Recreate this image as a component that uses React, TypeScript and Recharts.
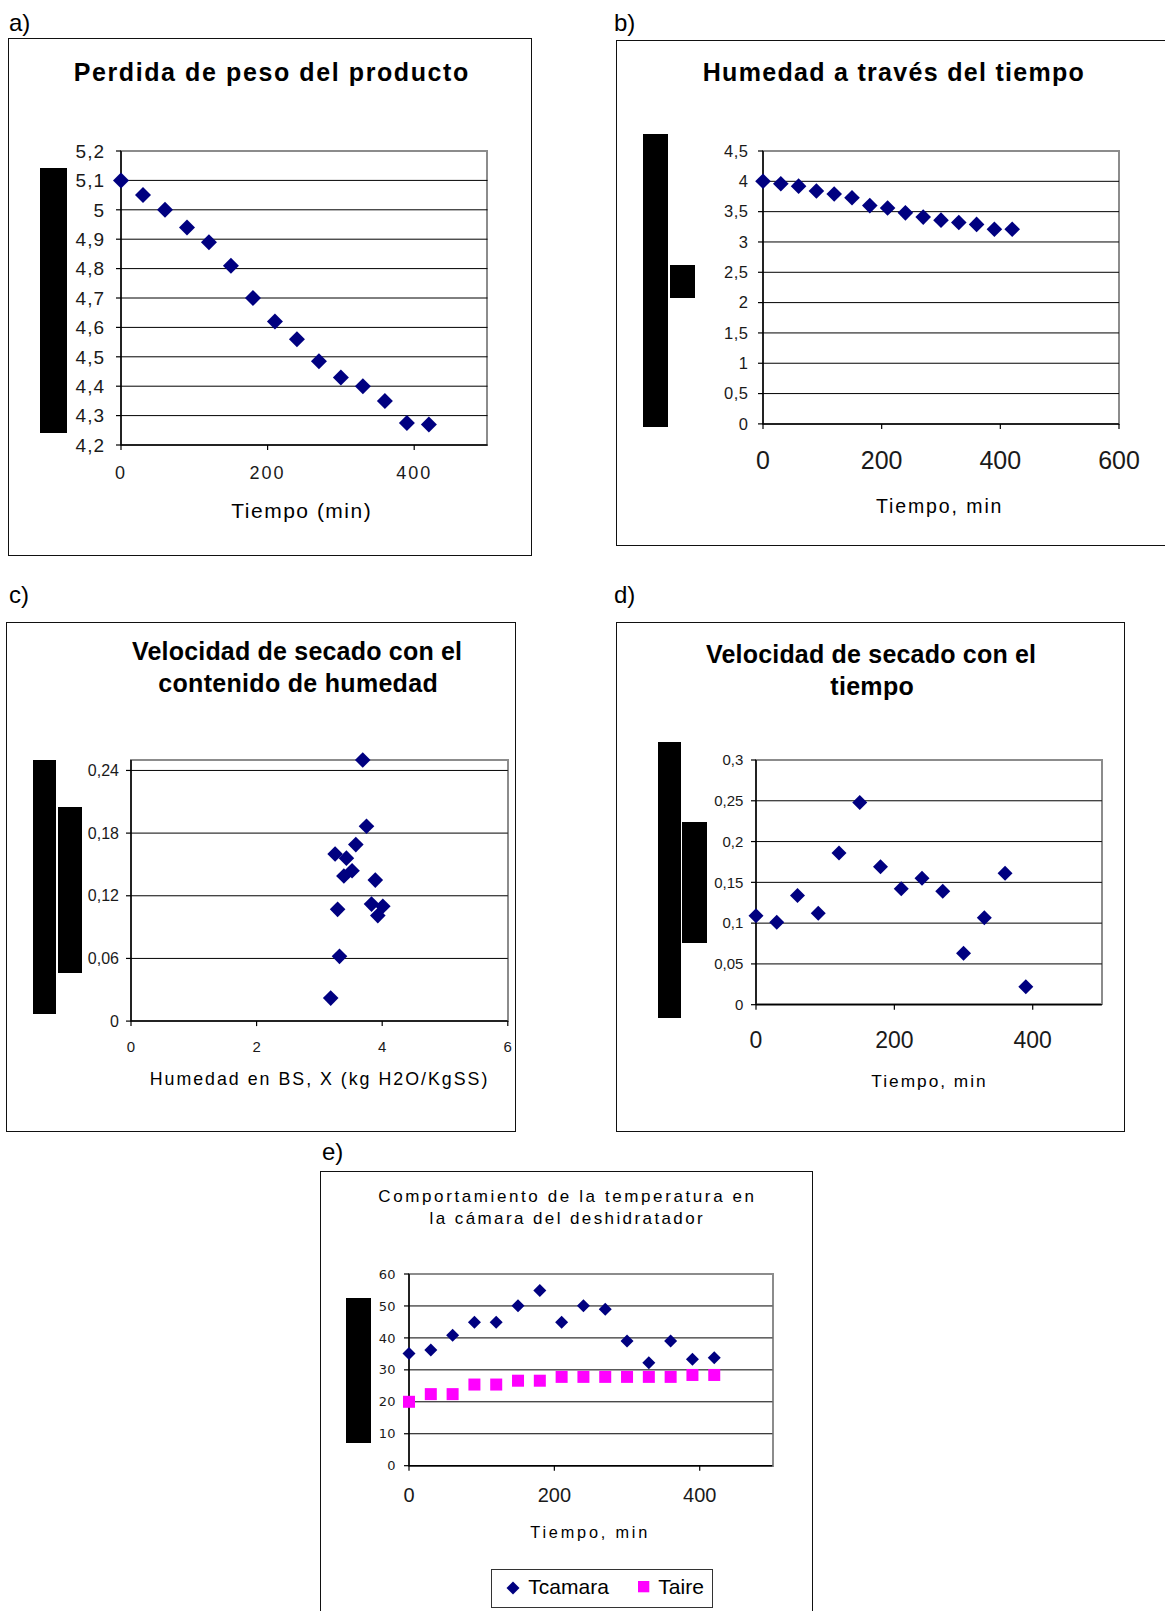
import React from 'react';
import { ScatterChart, Scatter, XAxis, YAxis, ReferenceLine } from 'recharts';

// ---------------- data ----------------
const tiempoMin = [0, 30, 60, 90, 120, 150, 180, 210, 240, 270, 300, 330, 360, 390, 420];
const pesoProducto = [5.1, 5.05, 5.0, 4.94, 4.89, 4.81, 4.7, 4.62, 4.56, 4.485, 4.43, 4.4, 4.35, 4.275, 4.27];
const humedadTiempo = [4.0, 3.96, 3.92, 3.84, 3.79, 3.73, 3.6, 3.56, 3.48, 3.41, 3.36, 3.32, 3.29, 3.21, 3.21];

const humedadBS = [4.01, 3.93, 3.89, 3.83, 3.75, 3.69, 3.58, 3.52, 3.43, 3.39, 3.32, 3.29, 3.25, 3.18];
const velocidadHumedad = [0.11, 0.101, 0.135, 0.112, 0.1865, 0.25, 0.169, 0.144, 0.156, 0.139, 0.062, 0.107, 0.16, 0.022];

const tiempoVelocidad = [0, 30, 60, 90, 120, 150, 180, 210, 240, 270, 300, 330, 360, 390];
const velocidadTiempo = [0.109, 0.101, 0.134, 0.112, 0.186, 0.248, 0.169, 0.142, 0.155, 0.139, 0.063, 0.1065, 0.161, 0.022];

const tCamara = [35.1, 36.2, 40.8, 44.9, 44.9, 50.1, 54.8, 44.9, 50.1, 49.0, 39.0, 32.2, 39.0, 33.3, 33.8];
const tAire = [20.0, 22.4, 22.4, 25.4, 25.4, 26.6, 26.6, 27.8, 27.8, 27.8, 27.8, 27.8, 27.8, 28.4, 28.4];

const xTicksA = [0, 200, 400];
const yTicksA = [4.2, 4.3, 4.4, 4.5, 4.6, 4.7, 4.8, 4.9, 5, 5.1, 5.2];
const xTicksB = [0, 200, 400, 600];
const yTicksB = [0, 0.5, 1, 1.5, 2, 2.5, 3, 3.5, 4, 4.5];
const xTicksC = [0, 2, 4, 6];
const yTicksC = [0, 0.06, 0.12, 0.18, 0.24];
const xTicksD = [0, 200, 400];
const yTicksD = [0, 0.05, 0.1, 0.15, 0.2, 0.25, 0.3];
const xTicksE = [0, 200, 400];
const yTicksE = [0, 10, 20, 30, 40, 50, 60];

// ---------------- styling helpers ----------------
const SANS = "'Liberation Sans', Arial, Helvetica, sans-serif";
const NARROW = "'Liberation Sans Narrow', 'Arial Narrow', 'Liberation Sans', sans-serif";
const DEJAVU = "'DejaVu Sans', Verdana, sans-serif";
const NAVY = '#000080';
const MAGENTA = '#ff00ff';

type Font = { family: string; size: number; ls?: number; fill?: string };
type SeriesDef = { name: string; xs: number[]; ys: number[]; shape: 'diamond' | 'square'; color: string; r: number };
type PlotDef = {
  left: number; top: number; right: number; bottom: number;
  xDomain: [number, number]; xTicks: number[];
  yDomain: [number, number]; yTicks: number[];
  xFont: Font; yFont: Font; xMargin: number; yMargin: number;
  series: SeriesDef[];
};

const YW = 90, XH = 60, MT = 14, MR = 40, TS = 5;
const fmt = (v: number) => String(v).replace('.', ',');

function Plot(p: PlotDef) {
  const w = p.right - p.left;
  const h = p.bottom - p.top;
  const grid = p.yTicks.filter((t) => t > p.yDomain[0] && t < p.yDomain[1]);
  const xTick = (props: any) => (
    <text
      x={props.x}
      y={props.y}
      dy={0.71 * p.xFont.size}
      textAnchor="middle"
      fontFamily={p.xFont.family}
      fontSize={p.xFont.size}
      letterSpacing={p.xFont.ls || 0}
      fill={p.xFont.fill || '#1a1a1a'}
    >
      {fmt(props.payload.value)}
    </text>
  );
  const yTick = (props: any) => (
    <text
      x={props.x}
      y={props.y}
      dy={0.355 * p.yFont.size}
      textAnchor="end"
      fontFamily={p.yFont.family}
      fontSize={p.yFont.size}
      letterSpacing={p.yFont.ls || 0}
      fill={p.yFont.fill || '#1a1a1a'}
    >
      {fmt(props.payload.value)}
    </text>
  );
  return (
    <>
      <div
        style={{
          position: 'absolute', left: p.left - 1, top: p.top - 1, width: w + 2, height: h + 2,
          border: '2px solid #8c8c8c', boxSizing: 'border-box',
        }}
      />
      <div style={{ position: 'absolute', left: p.left - YW, top: p.top - MT }}>
        <ScatterChart width={w + YW + MR} height={h + MT + XH} margin={{ top: MT, right: MR, bottom: 0, left: 0 }}>
          <XAxis
            type="number" dataKey="x" domain={p.xDomain} ticks={p.xTicks} interval={0}
            height={XH} tickSize={TS} tickMargin={p.xMargin}
            axisLine={{ stroke: '#000', strokeWidth: 1.5 }} tickLine={{ stroke: '#000', strokeWidth: 1.2 }}
            tick={xTick}
          />
          <YAxis
            type="number" dataKey="y" domain={p.yDomain} ticks={p.yTicks} interval={0}
            width={YW} tickSize={TS} tickMargin={p.yMargin}
            axisLine={{ stroke: '#000', strokeWidth: 1.5 }} tickLine={{ stroke: '#000', strokeWidth: 1.2 }}
            tick={yTick}
          />
          {grid.map((g) => (
            <ReferenceLine key={g} y={g} stroke="#000" strokeWidth={1} />
          ))}
          {p.series.map((s) => (
            <Scatter
              key={s.name}
              name={s.name}
              data={s.xs.map((x, i) => ({ x, y: s.ys[i] }))}
              isAnimationActive={false}
              shape={(sp: any) => {
                const { cx, cy } = sp;
                const r = s.r;
                if (s.shape === 'square') {
                  return <rect x={cx - r} y={cy - r} width={2 * r} height={2 * r} fill={s.color} />;
                }
                return (
                  <polygon
                    points={`${cx},${cy - r} ${cx + r},${cy} ${cx},${cy + r} ${cx - r},${cy}`}
                    fill={s.color}
                  />
                );
              }}
            />
          ))}
        </ScatterChart>
      </div>
    </>
  );
}

function T(props: {
  x: number; y: number; size: number; children: React.ReactNode;
  family?: string; weight?: number; ls?: number; anchor?: 'middle' | 'start'; color?: string;
}) {
  const { x, y, size, children, family = SANS, weight = 400, ls = 0, anchor = 'middle', color = '#000' } = props;
  const style: React.CSSProperties = {
    position: 'absolute', top: y - 0.487 * size, fontSize: size, fontFamily: family, fontWeight: weight,
    letterSpacing: ls, lineHeight: 1, whiteSpace: 'nowrap', color, left: x,
  };
  if (anchor === 'middle') {
    style.transform = 'translateX(-50%)';
    style.paddingLeft = ls;
  }
  return <div style={style}>{children}</div>;
}

function Box(props: { left: number; top: number; right: number; bottom: number }) {
  return (
    <div
      style={{
        position: 'absolute', left: props.left, top: props.top,
        width: props.right - props.left, height: props.bottom - props.top,
        border: '1.5px solid #111', boxSizing: 'border-box',
      }}
    />
  );
}

function Bar(props: { l: number; t: number; r: number; b: number }) {
  return (
    <div style={{ position: 'absolute', left: props.l, top: props.t, width: props.r - props.l, height: props.b - props.t, background: '#000' }} />
  );
}

export default function App() {
  return (
    <div style={{ position: 'absolute', left: 0, top: 0, width: 1165, height: 1611, overflow: 'hidden', background: '#fff' }}>
      {/* panel labels */}
      <T x={9} y={22.8} size={24} family={NARROW} anchor="start">a)</T>
      <T x={614} y={22.8} size={24} family={NARROW} anchor="start">b)</T>
      <T x={9} y={594.9} size={24} family={NARROW} anchor="start">c)</T>
      <T x={614} y={594.9} size={24} family={NARROW} anchor="start">d)</T>
      <T x={322} y={1152.1} size={24} family={NARROW} anchor="start">e)</T>

      {/* ---------- a ---------- */}
      <Box left={8} top={38} right={532} bottom={556} />
      <T x={271} y={72} size={25} weight={700} ls={1.6}>Perdida de peso del producto</T>
      <Bar l={40} t={168} r={67} b={433} />
      <Plot
        left={120.7} top={151.4} right={487.2} bottom={445.4}
        xDomain={[0, 500]} xTicks={xTicksA} yDomain={[4.2, 5.2]} yTicks={yTicksA}
        xFont={{ family: SANS, size: 18, ls: 2 }} yFont={{ family: NARROW, size: 19, ls: 1 }}
        xMargin={16} yMargin={11}
        series={[{ name: 'peso', xs: tiempoMin, ys: pesoProducto, shape: 'diamond', color: NAVY, r: 8 }]}
      />
      <T x={301} y={510.4} size={21} ls={1.5}>Tiempo (min)</T>

      {/* ---------- b ---------- */}
      <Box left={616} top={40} right={1220} bottom={546} />
      <T x={893.3} y={72.5} size={25} weight={700} ls={1.3}>Humedad a través del tiempo</T>
      <Bar l={643} t={134} r={668} b={427} />
      <Bar l={670} t={265} r={695} b={297.5} />
      <Plot
        left={762.9} top={150.7} right={1118.9} bottom={423.6}
        xDomain={[0, 600]} xTicks={xTicksB} yDomain={[0, 4.5]} yTicks={yTicksB}
        xFont={{ family: SANS, size: 25 }} yFont={{ family: SANS, size: 16.5, ls: 0.5 }}
        xMargin={22.4} yMargin={9.5}
        series={[{ name: 'humedad', xs: tiempoMin, ys: humedadTiempo, shape: 'diamond', color: NAVY, r: 7.8 }]}
      />
      <T x={938.7} y={506.3} size={19.5} ls={1.9}>Tiempo, min</T>

      {/* ---------- c ---------- */}
      <Box left={6} top={622} right={516} bottom={1132} />
      <T x={297} y={650.7} size={25} weight={700} ls={0.2}>Velocidad de secado con el</T>
      <T x={298} y={683} size={25} weight={700} ls={0.3}>contenido de humedad</T>
      <Bar l={33} t={760} r={56} b={1013.6} />
      <Bar l={57.5} t={807} r={82.2} b={973} />
      <Plot
        left={131.2} top={759.8} right={508} bottom={1020.9}
        xDomain={[0, 6]} xTicks={xTicksC} yDomain={[0, 0.25]} yTicks={yTicksC}
        xFont={{ family: SANS, size: 15 }} yFont={{ family: SANS, size: 16 }}
        xMargin={15.1} yMargin={7}
        series={[{ name: 'vel-hum', xs: humedadBS, ys: velocidadHumedad, shape: 'diamond', color: NAVY, r: 7.8 }]}
      />
      <T x={318.5} y={1080} size={17.8} ls={2}>Humedad en BS, X (kg H2O/KgSS)</T>

      {/* ---------- d ---------- */}
      <Box left={615.5} top={622} right={1124.5} bottom={1132} />
      <T x={871} y={654} size={25} weight={700} ls={0.2}>Velocidad de secado con el</T>
      <T x={872} y={686} size={25} weight={700} ls={0.3}>tiempo</T>
      <Bar l={658} t={742} r={681} b={1017.6} />
      <Bar l={682.2} t={822} r={707} b={942.7} />
      <Plot
        left={755.7} top={759.8} right={1101.6} bottom={1004.5}
        xDomain={[0, 500]} xTicks={xTicksD} yDomain={[0, 0.3]} yTicks={yTicksD}
        xFont={{ family: SANS, size: 23 }} yFont={{ family: SANS, size: 15 }}
        xMargin={21.7} yMargin={7.7}
        series={[{ name: 'vel-t', xs: tiempoVelocidad, ys: velocidadTiempo, shape: 'diamond', color: NAVY, r: 7.5 }]}
      />
      <T x={928.5} y={1081} size={17.3} ls={2}>Tiempo, min</T>

      {/* ---------- e ---------- */}
      <Box left={320} top={1171} right={813} bottom={1680} />
      <T x={566.2} y={1196} size={17} ls={2.6}>Comportamiento de la temperatura en</T>
      <T x={566.2} y={1218} size={17} ls={2.4}>la cámara del deshidratador</T>
      <Bar l={346} t={1298} r={371} b={1442.7} />
      <Plot
        left={409.3} top={1274.3} right={772.7} bottom={1466}
        xDomain={[0, 500]} xTicks={xTicksE} yDomain={[0, 60]} yTicks={yTicksE}
        xFont={{ family: SANS, size: 20 }} yFont={{ family: DEJAVU, size: 13 }}
        xMargin={17.5} yMargin={8.6}
        series={[
          { name: 'Tcamara', xs: tiempoMin, ys: tCamara, shape: 'diamond', color: NAVY, r: 6.5 },
          { name: 'Taire', xs: tiempoMin, ys: tAire, shape: 'square', color: MAGENTA, r: 6 },
        ]}
      />
      <T x={588.8} y={1531.5} size={16.3} ls={2.8}>Tiempo, min</T>
      <div
        style={{
          position: 'absolute', left: 490.7, top: 1568.7, width: 222.6, height: 39,
          border: '1.5px solid #333', boxSizing: 'border-box',
        }}
      />
      <svg style={{ position: 'absolute', left: 505, top: 1580 }} width={16} height={16}>
        <polygon points="8,1.5 14.5,8 8,14.5 1.5,8" fill={NAVY} />
      </svg>
      <T x={528.3} y={1585.8} size={21} anchor="start">Tcamara</T>
      <svg style={{ position: 'absolute', left: 637.7, top: 1580.7 }} width={12} height={12}>
        <rect x={0} y={0} width={11.3} height={11.3} fill={MAGENTA} />
      </svg>
      <T x={658.3} y={1585.8} size={21} anchor="start">Taire</T>
    </div>
  );
}
